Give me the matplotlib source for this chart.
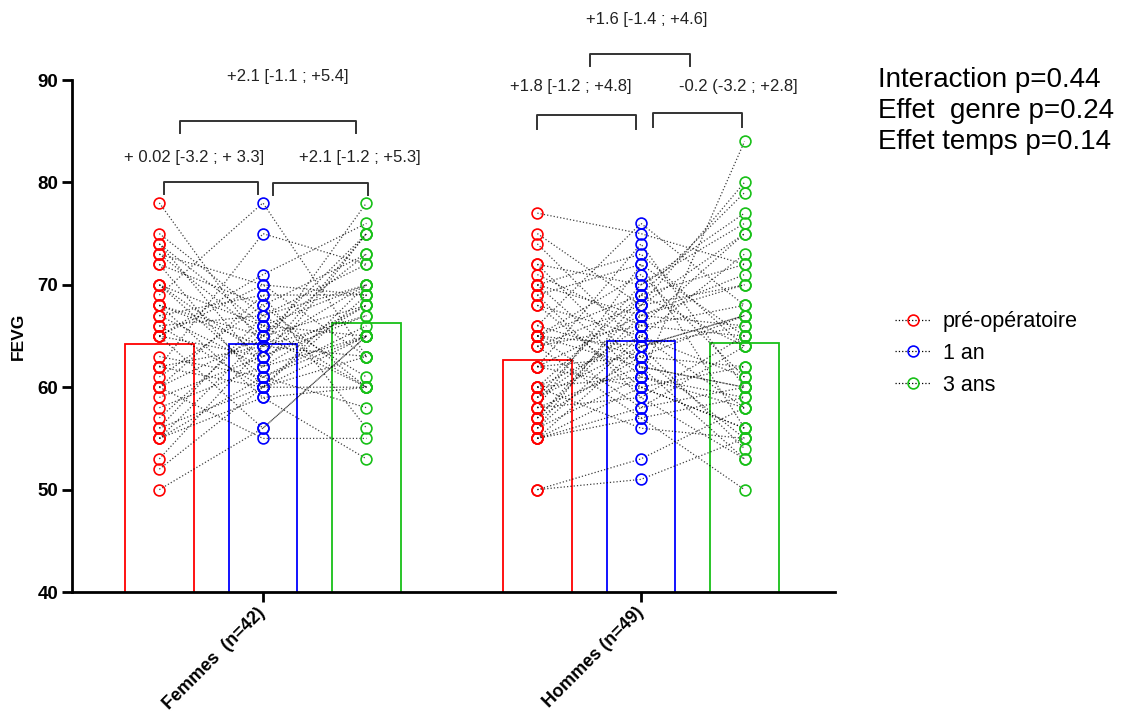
import matplotlib
matplotlib.use("Agg")
import matplotlib.pyplot as plt
from matplotlib.lines import Line2D
import numpy as np

plt.rcParams['font.family'] = ['Liberation Sans', 'DejaVu Sans']

groups = ['Femmes  (n=42)', 'Hommes (n=49)']
times = ['pré-opératoire', '1 an', '3 ans']
colors = ['#ff0000', '#0000ff', '#18c018']

# FEVG par patiente : pré-op, 1 an, 3 ans
femmes_pre = [78, 75, 74, 74, 73, 73, 72, 72, 70, 70, 70, 69, 68, 68, 68, 67, 67, 66, 66, 65, 65,
              65, 65, 63, 62, 62, 62, 61, 60, 60, 60, 59, 58, 57, 56, 56, 55, 55, 55, 53, 52, 50]
femmes_1an = [64, 67, 66, 62, 65, 70, 60, 68, 63, 61, 66, 78, 65, 59, 64, 62, 69, 60, 67, 71, 56,
              63, 70, 61, 75, 60, 64, 68, 65, 55, 69, 63, 62, 66, 60, 67, 61, 65, 59, 64, 60, 56]
femmes_3ans = [70, 72, 65, 68, 75, 63, 69, 60, 75, 65, 70, 63, 73, 60, 78, 65, 56, 70, 61, 76, 65,
               68, 69, 58, 72, 65, 63, 73, 60, 55, 69, 67, 75, 60, 63, 70, 66, 68, 53, 67, 60, 65]

# FEVG par patient : pré-op, 1 an, 3 ans
hommes_pre = [77, 75, 74, 72, 72, 71, 70, 70, 70, 69, 69, 68, 68, 66, 66, 65, 65, 65, 65, 65, 64,
              64, 64, 62, 62, 62, 62, 60, 60, 60, 60, 59, 59, 59, 58, 58, 58, 57, 57, 57, 56, 56,
              56, 55, 55, 55, 55, 50, 50]
hommes_1an = [75, 68, 64, 70, 62, 66, 73, 61, 67, 59, 72, 65, 60, 76, 63, 69, 58, 64, 71, 62, 68,
              57, 66, 74, 63, 60, 67, 65, 69, 61, 56, 70, 64, 66, 62, 72, 59, 68, 63, 67, 61, 69,
              65, 64, 60, 58, 57, 53, 51]
hommes_3ans = [72, 80, 66, 77, 60, 75, 64, 58, 70, 65, 56, 73, 62, 68, 55, 79, 60, 67, 61, 53, 75,
               59, 65, 60, 67, 56, 71, 58, 64, 84, 55, 76, 54, 68, 60, 65, 53, 70, 62, 66, 59, 72,
               61, 67, 56, 64, 50, 58, 55]

data = [[femmes_pre, femmes_1an, femmes_3ans],
        [hommes_pre, hommes_1an, hommes_3ans]]

# différences entre temps (moyenne [IC95])
comparisons = [
    (0, 0, 1, '+ 0.02 [-3.2 ; + 3.3]'),
    (0, 1, 2, '+2.1 [-1.2 ; +5.3]'),
    (0, 0, 2, '+2.1 [-1.1 ; +5.4]'),
    (1, 0, 1, '+1.8 [-1.2 ; +4.8]'),
    (1, 1, 2, '-0.2 (-3.2 ; +2.8]'),
    (1, 0, 2, '+1.6 [-1.4 ; +4.6]'),
]
stats_lines = ['Interaction p=0.44', 'Effet  genre p=0.24', 'Effet temps p=0.14']

fig = plt.figure(figsize=(11.34, 7.17), dpi=100)
ax = fig.add_axes([0.0635, 0.1743, 0.6727, 0.7141])

offset = 0.274
width = 0.181
centers = np.arange(len(groups))

for g, series in enumerate(data):
    xs = [centers[g] + (k - 1) * offset for k in range(3)]
    # barres des moyennes
    for k, vals in enumerate(series):
        ax.bar(xs[k], np.mean(vals), width=width, facecolor='none',
               edgecolor=colors[k], linewidth=1.3, zorder=1)
    # trajectoires individuelles
    for p in range(len(series[0])):
        ax.plot(xs, [series[0][p], series[1][p], series[2][p]], linestyle=':',
                color='black', linewidth=0.9, alpha=0.75, zorder=2)
    for k, vals in enumerate(series):
        ax.plot([xs[k]] * len(vals), vals, linestyle='none', marker='o',
                markersize=7.8, markerfacecolor='none', markeredgecolor=colors[k],
                markeredgewidth=1.2, zorder=3)

ax.set_xlim(-0.505, 1.513)
ax.set_ylim(40, 90)
ax.set_yticks(range(40, 91, 10))
ax.set_xticks(centers)
ax.set_xticklabels(groups, rotation=45, ha='right', va='center',
                   rotation_mode='anchor', fontsize=13, fontweight='bold')
for lab in ax.get_yticklabels():
    lab.set_fontweight('bold')
ax.tick_params(axis='y', labelsize=13.5, length=7, width=2, pad=3)
ax.tick_params(axis='x', length=7, width=2, pad=6)
ax.set_ylabel('FEVG', fontsize=12.5, fontweight='bold', labelpad=8)
for side in ['top', 'right']:
    ax.spines[side].set_visible(False)
for side in ['left', 'bottom']:
    ax.spines[side].set_linewidth(2)

# crochets : x gauche, x droite, haut, bas, x texte, y texte
bracket_specs = {
    (0, 0, 1): (-0.262, -0.012, 80.05, 78.9, -0.183, 82.45),
    (0, 1, 2): (0.026, 0.279, 79.95, 78.75, 0.257, 82.45),
    (0, 0, 2): (-0.219, 0.246, 86.0, 84.85, 0.065, 90.3),
    (1, 0, 1): (0.724, 0.987, 86.55, 85.25, 0.815, 89.35),
    (1, 1, 2): (1.032, 1.268, 86.8, 85.4, 1.257, 89.35),
    (1, 0, 2): (0.865, 1.131, 92.5, 91.4, 1.016, 95.9),
}
for g, a, b, label in comparisons:
    x0, x1, top, bottom, tx, ty = bracket_specs[(g, a, b)]
    ax.plot([x0, x0, x1, x1], [bottom, top, top, bottom], color='#333333',
            linewidth=1.4, clip_on=False, zorder=4)
    ax.text(tx, ty, label, ha='center', va='center', fontsize=12,
            color='#222222', clip_on=False)

for i, line in enumerate(stats_lines):
    fig.text(0.774, 0.889 - i * 0.0433, line, fontsize=20, va='center', ha='left')

handles = [Line2D([0], [0], linestyle=':', color='black', linewidth=0.9,
                  marker='o', markersize=7.8, markerfacecolor='none',
                  markeredgecolor=c, markeredgewidth=1.2) for c in colors]
fig.legend(handles, times, loc='center left', bbox_to_anchor=(0.782, 0.507),
           frameon=False, fontsize=15.5, handlelength=1.6, labelspacing=0.5,
           handletextpad=0.6, borderaxespad=0)

fig.savefig('out.png', dpi=100)
